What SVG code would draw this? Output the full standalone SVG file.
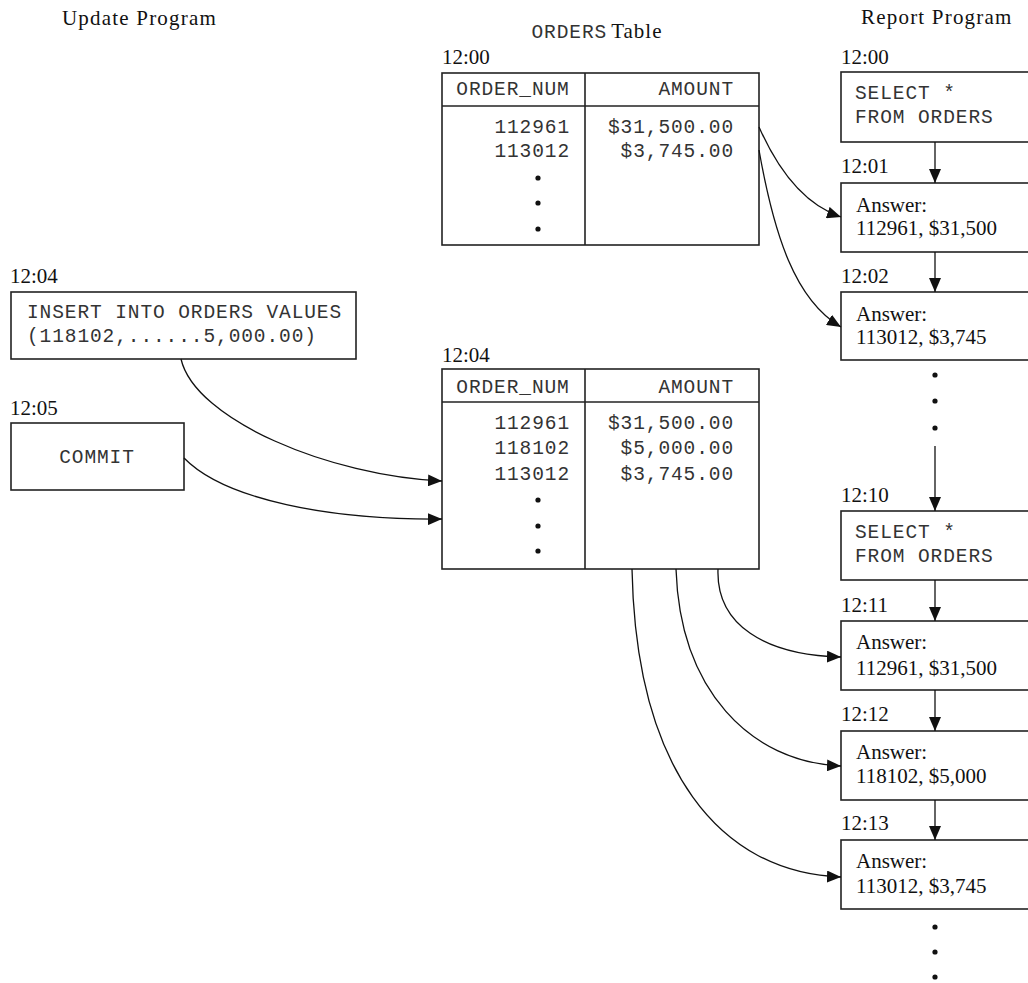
<svg xmlns="http://www.w3.org/2000/svg" width="1028" height="983" viewBox="0 0 1028 983">
<style>
.s{font-family:"Liberation Serif","Times New Roman",serif;font-size:21px;fill:#111}
.sl{letter-spacing:1.2px}
.m{font-family:"Liberation Mono","Courier New",monospace;font-size:19.5px;fill:#333;letter-spacing:0.9px}
.r{text-anchor:end}
.c{text-anchor:middle}
.b{fill:#fff;stroke:#222;stroke-width:1.6}
.ln{stroke:#222;stroke-width:1.6;fill:none}
.cn{stroke:#111;stroke-width:1.3;fill:none}
.d{fill:#111}
</style>
<defs>
<marker id="ah" viewBox="0 0 14 12" refX="14" refY="6" markerWidth="14" markerHeight="12" markerUnits="userSpaceOnUse" orient="auto">
<path d="M0,0 L14,6 L0,12 Z" fill="#111"/>
</marker>
</defs>
<rect width="1028" height="983" fill="#fff"/>

<g id="headers">
<text class="s sl" x="62" y="25">Update Program</text>
<text class="s" x="597" y="38" text-anchor="middle"><tspan class="m" font-size="16.5" letter-spacing="0.3">ORDERS</tspan><tspan dx="4" letter-spacing="1">Table</tspan></text>
<text class="s sl" x="861" y="24">Report Program</text>
</g>

<g id="table1">
<text class="s" x="442" y="64">12:00</text>
<rect class="b" x="442" y="73" width="317" height="172"/>
<line class="ln" x1="442" y1="106" x2="759" y2="106"/>
<line class="ln" x1="585" y1="73" x2="585" y2="245"/>
<text class="m c" x="513" y="95">ORDER_NUM</text>
<text class="m r" x="734" y="95">AMOUNT</text>
<text class="m r" x="570" y="133">112961</text>
<text class="m r" x="570" y="157">113012</text>
<text class="m r" x="734" y="133">$31,500.00</text>
<text class="m r" x="734" y="157">$3,745.00</text>
<circle class="d" cx="538" cy="178" r="2.6"/>
<circle class="d" cx="538" cy="203" r="2.6"/>
<circle class="d" cx="538" cy="229" r="2.6"/>
</g>

<g id="table2">
<text class="s" x="442" y="362">12:04</text>
<rect class="b" x="442" y="369" width="317" height="200"/>
<line class="ln" x1="442" y1="402" x2="759" y2="402"/>
<line class="ln" x1="585" y1="369" x2="585" y2="569"/>
<text class="m c" x="513" y="393">ORDER_NUM</text>
<text class="m r" x="734" y="393">AMOUNT</text>
<text class="m r" x="570" y="429">112961</text>
<text class="m r" x="570" y="454">118102</text>
<text class="m r" x="570" y="480">113012</text>
<text class="m r" x="734" y="429">$31,500.00</text>
<text class="m r" x="734" y="454">$5,000.00</text>
<text class="m r" x="734" y="480">$3,745.00</text>
<circle class="d" cx="538" cy="500" r="2.6"/>
<circle class="d" cx="538" cy="526" r="2.6"/>
<circle class="d" cx="538" cy="551" r="2.6"/>
</g>

<g id="insert">
<text class="s" x="10" y="283">12:04</text>
<rect class="b" x="11" y="292" width="345" height="67"/>
<text class="m" x="27" y="318">INSERT INTO ORDERS VALUES</text>
<text class="m" x="27" y="342">(118102,......5,000.00)</text>
</g>

<g id="commit">
<text class="s" x="10" y="415">12:05</text>
<rect class="b" x="11" y="423" width="173" height="67"/>
<text class="m c" x="97" y="463">COMMIT</text>
</g>

<g id="select1">
<text class="s" x="841" y="64">12:00</text>
<rect class="b" x="841" y="72" width="200" height="70"/>
<text class="m" x="855" y="99">SELECT *</text>
<text class="m" x="855" y="123">FROM ORDERS</text>
</g>

<g id="answer1">
<text class="s" x="841" y="173">12:01</text>
<rect class="b" x="841" y="183" width="200" height="69"/>
<text class="s" x="856" y="212">Answer:</text>
<text class="s" x="856" y="235">112961, $31,500</text>
</g>

<g id="answer2">
<text class="s" x="841" y="283">12:02</text>
<rect class="b" x="841" y="292" width="200" height="68"/>
<text class="s" x="856" y="321">Answer:</text>
<text class="s" x="856" y="344">113012, $3,745</text>
</g>

<g id="dots1">
<circle class="d" cx="935" cy="375" r="2.6"/>
<circle class="d" cx="935" cy="401" r="2.6"/>
<circle class="d" cx="935" cy="428" r="2.6"/>
</g>

<g id="select2">
<text class="s" x="841" y="502">12:10</text>
<rect class="b" x="841" y="511" width="200" height="69"/>
<text class="m" x="855" y="538">SELECT *</text>
<text class="m" x="855" y="562">FROM ORDERS</text>
</g>

<g id="answer3">
<text class="s" x="841" y="612">12:11</text>
<rect class="b" x="841" y="621" width="200" height="69"/>
<text class="s" x="856" y="649">Answer:</text>
<text class="s" x="856" y="675">112961, $31,500</text>
</g>

<g id="answer4">
<text class="s" x="841" y="721">12:12</text>
<rect class="b" x="841" y="731" width="200" height="69"/>
<text class="s" x="856" y="759">Answer:</text>
<text class="s" x="856" y="783">118102, $5,000</text>
</g>

<g id="answer5">
<text class="s" x="841" y="830">12:13</text>
<rect class="b" x="841" y="840" width="200" height="69"/>
<text class="s" x="856" y="868">Answer:</text>
<text class="s" x="856" y="893">113012, $3,745</text>
</g>

<g id="dots2">
<circle class="d" cx="935" cy="927" r="2.6"/>
<circle class="d" cx="935" cy="952" r="2.6"/>
<circle class="d" cx="935" cy="977" r="2.6"/>
</g>

<g id="connectors">
<line class="cn" x1="935" y1="142" x2="935" y2="183" marker-end="url(#ah)"/>
<line class="cn" x1="935" y1="252" x2="935" y2="292" marker-end="url(#ah)"/>
<line class="cn" x1="935" y1="446" x2="935" y2="511" marker-end="url(#ah)"/>
<line class="cn" x1="935" y1="580" x2="935" y2="621" marker-end="url(#ah)"/>
<line class="cn" x1="935" y1="690" x2="935" y2="731" marker-end="url(#ah)"/>
<line class="cn" x1="935" y1="800" x2="935" y2="840" marker-end="url(#ah)"/>
<path class="cn" d="M759,127 C778,170 805,205 841,217" marker-end="url(#ah)"/>
<path class="cn" d="M759,150 C774,235 795,300 841,327" marker-end="url(#ah)"/>
<path class="cn" d="M181,359 C195,420 330,476 442,481" marker-end="url(#ah)"/>
<path class="cn" d="M184,458 C225,500 330,520 442,519" marker-end="url(#ah)"/>
<path class="cn" d="M718,569 C716,625 765,655 841,657" marker-end="url(#ah)"/>
<path class="cn" d="M676,569 C680,690 750,762 841,766" marker-end="url(#ah)"/>
<path class="cn" d="M632,569 C636,770 720,873 841,877" marker-end="url(#ah)"/>
</g>
</svg>
